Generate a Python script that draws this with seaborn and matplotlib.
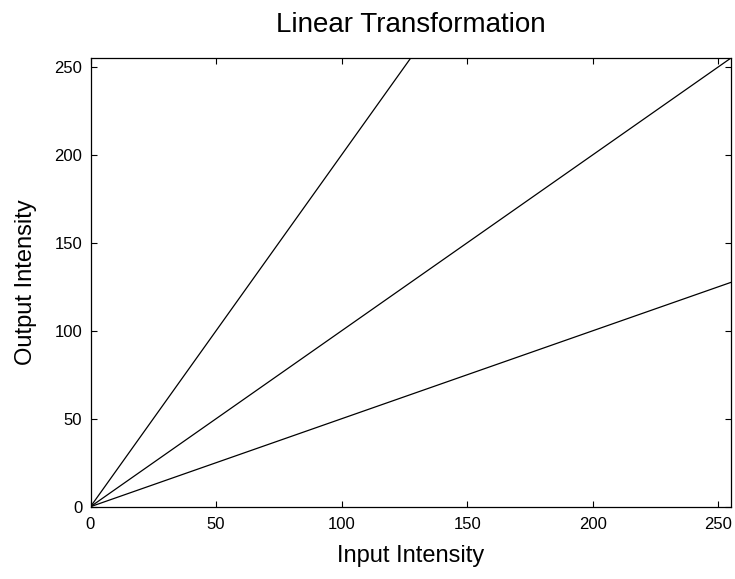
import matplotlib
matplotlib.use("Agg")
import matplotlib.pyplot as plt
import seaborn as sns
import pandas as pd

# Data
input_intensity = [0, 255]
out_gain_2 = [0, 510]
out_gain_1 = [0, 255]
out_gain_half = [0, 127.5]
tick_values = [0, 50, 100, 150, 200, 250]

sns.set_theme(style="white")
plt.rcParams['font.family'] = ['Liberation Sans', 'DejaVu Sans']
plt.rcParams['text.color'] = 'black'
plt.rcParams['axes.labelcolor'] = 'black'
plt.rcParams['xtick.color'] = 'black'
plt.rcParams['ytick.color'] = 'black'

df = pd.DataFrame({
    "x": input_intensity * 3,
    "y": out_gain_2 + out_gain_1 + out_gain_half,
    "series": ["g2"] * 2 + ["g1"] * 2 + ["g05"] * 2,
})

W, H = 735, 579
left, right, top, bottom = 90.5, 731.0, 58.0, 506.7
fig = plt.figure(figsize=(W / 100, H / 100), dpi=100)
ax = fig.add_axes([left / W, (H - bottom) / H, (right - left) / W, (bottom - top) / H])

sns.lineplot(data=df, x="x", y="y", units="series", estimator=None,
             color="black", linewidth=0.9, ax=ax, legend=False)

ax.set_xlim(0, 255)
ax.set_ylim(0, 255)
ax.set_xticks(tick_values)
ax.set_yticks(tick_values)
ax.tick_params(direction="in", length=4.5, width=0.8, colors="black",
               top=True, right=True, bottom=True, left=True,
               labelsize=12)
ax.tick_params(axis="x", pad=7.5)
ax.tick_params(axis="y", pad=6)
for s in ax.spines.values():
    s.set_color("black")
    s.set_linewidth(0.9)

ax.set_xlabel("Input Intensity", fontsize=17, color="black")
ax.set_ylabel("Output Intensity", fontsize=17, color="black")
ax.xaxis.set_label_coords(0.5, (bottom - 545) / (bottom - top))
ax.yaxis.set_label_coords((37 - left) / (right - left), 0.5)
ax.set_title("Linear Transformation", fontsize=20, pad=19, color="black")

fig.savefig("out.png", dpi=100)
